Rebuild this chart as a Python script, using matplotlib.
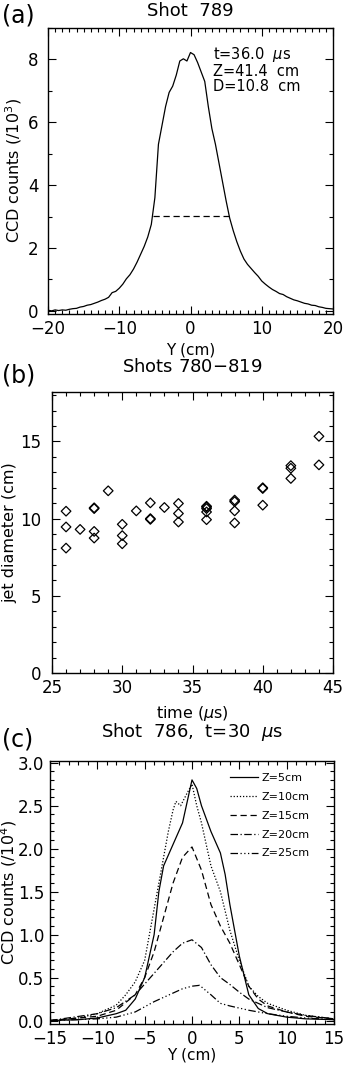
import numpy as np
import matplotlib
matplotlib.use("Agg")
import matplotlib.pyplot as plt
from matplotlib.ticker import MultipleLocator, FormatStrFormatter

plt.rcParams["font.family"] = ["DejaVu Sans"]
plt.rcParams["mathtext.fontset"] = "dejavusans"

# (a) perfil de la toma 789
y_a = np.arange(-20, 20.5, 0.5)
counts_a = [0.02, 0.0, 0.03, 0.01, 0.03, 0.02, 0.05, 0.07, 0.08, 0.12,
            0.14, 0.18, 0.2, 0.24, 0.28, 0.33, 0.37, 0.43, 0.58, 0.62,
            0.72, 0.85, 1.02, 1.15, 1.33, 1.55, 1.8, 2.05, 2.35, 2.75,
            3.6, 5.3, 5.9, 6.5, 6.95, 7.15, 7.5, 7.95, 8.02, 7.95,
            8.22, 8.15, 7.9, 7.6, 7.3, 6.5, 5.8, 5.3, 4.7, 4.1,
            3.5, 2.95, 2.55, 2.2, 1.9, 1.65, 1.48, 1.35, 1.22, 1.1,
            0.95, 0.85, 0.76, 0.68, 0.62, 0.55, 0.52, 0.45, 0.4, 0.35,
            0.32, 0.28, 0.24, 0.22, 0.18, 0.17, 0.13, 0.11, 0.08, 0.07,
            0.06]
fwhm_x = [-5.2, 5.5]
fwhm_y = [3.03, 3.03]

# (b) diametro del jet vs tiempo
time_b = [26, 26, 26, 27, 28, 28, 28, 28, 29, 30, 30, 30, 31, 32, 32, 32,
          33, 34, 34, 34, 36, 36, 36, 36, 36, 38, 38, 38, 38, 40, 40, 40,
          42, 42, 42, 44, 44]
diam_b = [10.48, 9.46, 8.09, 9.3, 10.65, 10.7, 9.17, 8.74, 11.8, 9.63, 8.9,
          8.37, 10.5, 11.02, 9.95, 10.0, 10.72, 10.98, 10.33, 9.78, 10.65,
          10.75, 10.8, 10.43, 9.93, 11.1, 11.2, 10.5, 9.72, 11.95, 12.0,
          10.87, 13.43, 13.26, 12.6, 15.33, 13.48]

# (c) perfiles a distintas Z, toma 786
y_z5 = [-15, -12, -10, -8, -7, -6, -5, -4, -3.5, -3, -2, -1, -0.5, 0, 0.5,
        1, 2, 3, 3.5, 4, 5, 6, 7, 8, 10, 12, 15]
c_z5 = [0.0, 0.01, 0.03, 0.08, 0.12, 0.25, 0.5, 1.0, 1.5, 1.8, 2.05, 2.3,
        2.55, 2.8, 2.7, 2.5, 2.2, 1.95, 1.7, 1.35, 0.75, 0.3, 0.14, 0.08,
        0.04, 0.02, 0.01]
y_z10 = [-15, -12, -10, -8, -7, -6, -5, -4, -3, -2.5, -2, -1.7, -1.2, -0.5,
         0, 0.5, 1, 2, 3, 4, 5, 6, 7, 8, 10, 12, 15]
c_z10 = [0.0, 0.03, 0.08, 0.18, 0.3, 0.45, 0.7, 1.3, 1.9, 2.2, 2.45, 2.55,
         2.5, 2.65, 2.75, 2.5, 2.3, 1.8, 1.5, 1.05, 0.7, 0.4, 0.28, 0.2,
         0.12, 0.06, 0.02]
y_z15 = [-15, -10, -8, -6, -5, -4, -3, -2, -1, 0, 1, 2, 3, 4, 5, 6, 7, 8,
         10, 12, 15]
c_z15 = [0.0, 0.05, 0.12, 0.3, 0.5, 0.8, 1.2, 1.6, 1.9, 2.02, 1.75, 1.35,
         1.1, 0.9, 0.65, 0.4, 0.25, 0.17, 0.1, 0.05, 0.02]
y_z20 = [-15, -10, -8, -6, -4, -2, -1, 0, 1, 2, 3, 4, 5, 6, 8, 10, 12, 15]
c_z20 = [0.0, 0.08, 0.15, 0.3, 0.55, 0.8, 0.9, 0.94, 0.85, 0.65, 0.5, 0.42,
         0.33, 0.25, 0.15, 0.1, 0.06, 0.02]
y_z25 = [-15, -10, -8, -6, -4, -2, -1, 0, 0.8, 2, 3, 4, 6, 8, 10, 12, 15]
c_z25 = [0.0, 0.02, 0.04, 0.1, 0.22, 0.32, 0.37, 0.4, 0.41, 0.3, 0.2, 0.17,
         0.12, 0.08, 0.05, 0.03, 0.01]
z_labels = ["Z=5cm", "Z=10cm", "Z=15cm", "Z=20cm", "Z=25cm"]


def estilo(ax, xmin, ymin, ypad):
    ax.tick_params(which="both", direction="in", top=True, right=True,
                   labelsize=12, width=0.8)
    ax.tick_params(which="major", length=6)
    ax.tick_params(which="minor", length=3)
    ax.tick_params(axis="y", pad=ypad)
    ax.tick_params(axis="x", pad=4.5)
    ax.xaxis.set_minor_locator(MultipleLocator(xmin))
    ax.yaxis.set_minor_locator(MultipleLocator(ymin))
    for s in ax.spines.values():
        s.set_linewidth(1.0)


W, H = 346, 1081
fig = plt.figure(figsize=(W / 100, H / 100), dpi=100)

# (a)
ax1 = fig.add_axes([48 / W, 1 - 314 / H, 285 / W, 286 / H])
ax1.plot(y_a, counts_a, color="black", lw=0.9)
ax1.plot(fwhm_x, fwhm_y, color="black", lw=0.9, ls=(0, (5, 3)))
ax1.set_xlim(-20, 20)
ax1.set_ylim(-0.1, 9.0)
ax1.xaxis.set_major_locator(MultipleLocator(10))
ax1.yaxis.set_major_locator(MultipleLocator(2))
estilo(ax1, 1, 1, 7)
ax1.set_xlabel("Y (cm)", fontsize=11, va="top")
ax1.xaxis.set_label_coords(0.5, -0.1)
ax1.set_ylabel("CCD counts (/10$^3$)", fontsize=11.5)
ax1.yaxis.set_label_coords(-0.085, 0.5)
ax1.set_title("Shot  789", fontsize=13, pad=8.6)
ax1.text(0.579, 0.94, "t=36.0  $\\mu$s\nZ=41.4  cm\nD=10.8  cm",
         transform=ax1.transAxes, fontsize=10.5, va="top", linespacing=1.0)
fig.text(2 / W, 1 - 15 / H, "(a)", fontsize=17, va="center")

# (b)
ax2 = fig.add_axes([52 / W, 1 - 673 / H, 281 / W, 281 / H])
ax2.scatter(time_b, diam_b, marker="D", s=24, facecolors="none",
            edgecolors="black", linewidths=0.9)
ax2.set_xlim(25, 45)
ax2.set_ylim(0, 18.2)
ax2.xaxis.set_major_locator(MultipleLocator(5))
ax2.yaxis.set_major_locator(MultipleLocator(5))
estilo(ax2, 1, 1, 8)
ax2.set_xlabel("time ($\\mu$s)", fontsize=11.5, va="top")
ax2.xaxis.set_label_coords(0.5, -0.11)
ax2.set_ylabel("jet diameter (cm)", fontsize=11.5)
ax2.yaxis.set_label_coords(-0.125, 0.5)
ax2.set_title("Shots 780$-$819", fontsize=13, pad=14.5)
fig.text(2 / W, 1 - 375 / H, "(b)", fontsize=17, va="center")

# (c)
ax3 = fig.add_axes([50 / W, 1 - 1024 / H, 284 / W, 263 / H])
ax3.plot(y_z5, c_z5, color="black", lw=0.9, ls="-", label=z_labels[0])
ax3.plot(y_z10, c_z10, color="black", lw=0.9, ls=(0, (1, 1.5)), label=z_labels[1])
ax3.plot(y_z15, c_z15, color="black", lw=0.9, ls=(0, (5, 3)), label=z_labels[2])
ax3.plot(y_z20, c_z20, color="black", lw=0.9, ls=(0, (6, 2, 1, 2)), label=z_labels[3])
ax3.plot(y_z25, c_z25, color="black", lw=0.9, ls=(0, (6, 2, 1, 2, 1, 2, 1, 2)),
         label=z_labels[4])
ax3.set_xlim(-15, 15)
ax3.set_ylim(-0.04, 3.02)
ax3.xaxis.set_major_locator(MultipleLocator(5))
ax3.yaxis.set_major_locator(MultipleLocator(0.5))
ax3.yaxis.set_major_formatter(FormatStrFormatter("%.1f"))
estilo(ax3, 1, 0.1, 4)
ax3.set_xlabel("Y (cm)", fontsize=11, va="top")
ax3.xaxis.set_label_coords(0.5, -0.09)
ax3.set_ylabel("CCD counts (/10$^4$)", fontsize=11.5)
ax3.yaxis.set_label_coords(-0.108, 0.5)
ax3.set_title("Shot  786,  t=30  $\\mu$s", fontsize=13, pad=17)
ax3.legend(loc="upper left", bbox_to_anchor=(0.634, 0.955), frameon=False,
           fontsize=8, handlelength=2.5, labelspacing=0.8, borderpad=0,
           borderaxespad=0, handletextpad=0.36)
fig.text(2 / W, 1 - 740 / H, "(c)", fontsize=17, va="center")

fig.savefig("out.png", dpi=100)
